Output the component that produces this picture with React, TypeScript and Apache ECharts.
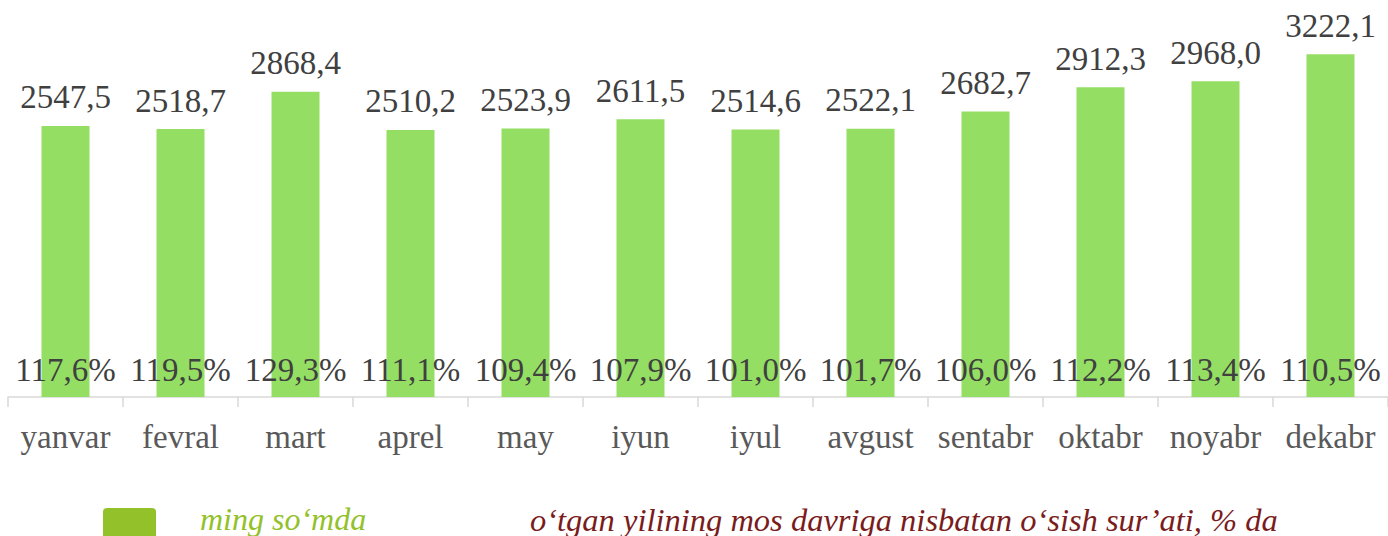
import React, { useEffect, useRef } from "react";
import * as echarts from "echarts";

const months = ["yanvar", "fevral", "mart", "aprel", "may", "iyun", "iyul", "avgust", "sentabr", "oktabr", "noyabr", "dekabr"];
const salary = [2547.5, 2518.7, 2868.4, 2510.2, 2523.9, 2611.5, 2514.6, 2522.1, 2682.7, 2912.3, 2968.0, 3222.1];
const growth = [117.6, 119.5, 129.3, 111.1, 109.4, 107.9, 101.0, 101.7, 106.0, 112.2, 113.4, 110.5];
const legendNames = ["ming so‘mda", "o‘tgan yilining mos davriga nisbatan o‘sish sur’ati, % da"];

const fmt = (v: number) => v.toFixed(1).replace(".", ",");
const FONT = "'Liberation Serif', 'Times New Roman', serif";

export default function App() {
  const ref = useRef<HTMLDivElement>(null);
  useEffect(() => {
    if (!ref.current) return;
    const chart = echarts.init(ref.current, null, { renderer: "svg" });
    chart.setOption({
      animation: false,
      grid: { left: 8, top: 24.6, width: 1382.4, bottom: 139, containLabel: false },
      xAxis: {
        type: "category",
        data: months,
        axisLine: { lineStyle: { color: "#d9d9d9", width: 1.5 } },
        axisTick: { show: true, length: 10, lineStyle: { color: "#d9d9d9", width: 1.5 } },
        axisLabel: { color: "#595959", fontFamily: FONT, fontSize: 33, margin: 23, interval: 0 },
      },
      yAxis: { type: "value", min: 0, max: 3500, show: false, splitLine: { show: false } },
      series: [
        {
          type: "bar",
          data: salary,
          barWidth: 48,
          itemStyle: { color: "#94df63" },
          label: {
            show: true,
            position: "top",
            distance: 12,
            color: "#404040",
            fontFamily: FONT,
            fontSize: 33,
            formatter: (p: any) => fmt(p.value),
          },
        },
        {
          type: "bar",
          data: salary,
          barWidth: 48,
          barGap: "-100%",
          itemStyle: { color: "rgba(0,0,0,0)" },
          z: 3,
          label: {
            show: true,
            position: "insideBottom",
            distance: 11,
            color: "#404040",
            fontFamily: FONT,
            fontSize: 33,
            formatter: (p: any) => fmt(growth[p.dataIndex]) + "%",
          },
        },
      ],
      graphic: [
        { type: "rect", left: 103, top: 508, shape: { width: 53, height: 34, r: 4 }, style: { fill: "#92c12a" } },
        {
          type: "text",
          left: 200,
          top: 503,
          style: { text: legendNames[0], fill: "#92c12a", font: `italic 32px ${FONT}` },
        },
        {
          type: "text",
          left: 530,
          top: 503,
          style: { text: legendNames[1], fill: "#7a1c1c", font: `italic 32.5px ${FONT}` },
        },
      ],
    });
    return () => chart.dispose();
  }, []);
  return <div ref={ref} style={{ position: "absolute", left: 0, top: 0, width: 1388, height: 536 }} />;
}
